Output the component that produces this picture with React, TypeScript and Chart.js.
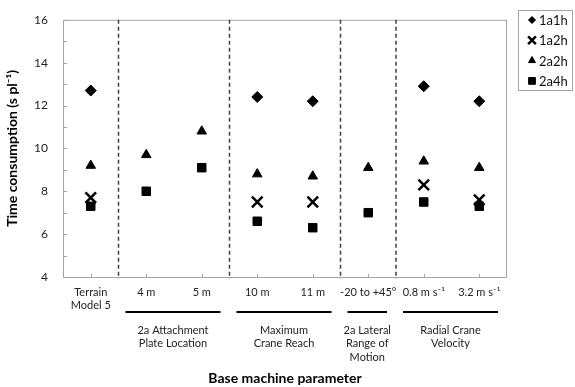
import React, { useEffect, useRef } from 'react';
import { Chart, registerables } from 'chart.js';
import { drawPoint } from 'chart.js/helpers';

Chart.register(...registerables);

const categories: (string | string[])[] = [
  ['Terrain', 'Model 5'],
  '4 m',
  '5 m',
  '10 m',
  '11 m',
  '-20 to +45°',
  '0.8 m s⁻¹',
  '3.2 m s⁻¹',
];
const series1a1h = [12.7, null, null, 12.4, 12.2, null, 12.9, 12.2];
const series1a2h = [7.7, null, null, 7.5, 7.5, null, 8.3, 7.6];
const series2a2h = [9.2, 9.7, 10.8, 8.8, 8.7, 9.1, 9.4, 9.1];
const series2a4h = [7.3, 8.0, 9.1, 6.6, 6.3, 7.0, 7.5, 7.3];
const seriesNames = ['1a1h', '1a2h', '2a2h', '2a4h'];
const separatorsAfter = [0, 2, 4, 5];
const groups = [
  { label: ['2a Attachment', 'Plate Location'], from: 1, to: 2 },
  { label: ['Maximum', 'Crane Reach'], from: 3, to: 4 },
  { label: ['2a Lateral', 'Range of', 'Motion'], from: 5, to: 5 },
  { label: ['Radial Crane', 'Velocity'], from: 6, to: 7 },
];
const yMin = 4;
const yMax = 16;
const yStep = 2;

const FONT = 'Lato, "Open Sans", sans-serif';

const styles = [
  { pointStyle: 'rectRot', radius: 5.5, borderWidth: 1, lr: 3.5 },
  { pointStyle: 'crossRot', radius: 7.5, borderWidth: 2.5, lr: 5.5 },
  { pointStyle: 'triangle', radius: 5.5, borderWidth: 1, lr: 4 },
  { pointStyle: 'rect', radius: 6, borderWidth: 1, lr: 4.8 },
];

const decoPlugin = {
  id: 'deco',
  beforeDatasetsDraw(chart: any) {
    const { ctx, chartArea: a, scales } = chart;
    const x = scales.x;
    const y = scales.y;
    ctx.save();
    ctx.strokeStyle = '#a6a6a6';
    ctx.lineWidth = 1;
    ctx.strokeRect(a.left + 0.5, a.top + 0.5, a.right - a.left - 1, a.bottom - a.top);
    for (let v = yMin; v <= yMax; v += 1) {
      const py = Math.round(y.getPixelForValue(v)) + 0.5;
      ctx.beginPath();
      ctx.moveTo(a.left, py);
      ctx.lineTo(a.left + 4, py);
      ctx.stroke();
    }
    for (let i = 0; i < categories.length; i++) {
      const px = Math.round(x.getPixelForValue(i)) + 0.5;
      ctx.beginPath();
      ctx.moveTo(px, a.bottom);
      ctx.lineTo(px, a.bottom - 3);
      ctx.stroke();
    }
    ctx.strokeStyle = '#404040';
    ctx.lineWidth = 1.5;
    ctx.setLineDash([4, 3]);
    for (const s of separatorsAfter) {
      const px = (x.getPixelForValue(s) + x.getPixelForValue(s + 1)) / 2;
      ctx.beginPath();
      ctx.moveTo(px, a.top);
      ctx.lineTo(px, a.bottom + 2);
      ctx.stroke();
    }
    ctx.restore();
  },
  afterDraw(chart: any) {
    const { ctx, chartArea: a, scales } = chart;
    const x = scales.x;
    const half = (x.getPixelForValue(1) - x.getPixelForValue(0)) / 2;
    ctx.save();
    ctx.fillStyle = '#222';
    ctx.strokeStyle = '#000';
    ctx.lineWidth = 2;
    ctx.font = `11px ${FONT}`;
    ctx.textAlign = 'center';
    ctx.textBaseline = 'middle';
    for (const g of groups) {
      const l = x.getPixelForValue(g.from) - half;
      const r = x.getPixelForValue(g.to) + half;
      const lineY = a.bottom + 35;
      ctx.beginPath();
      ctx.moveTo(l + 7, lineY);
      ctx.lineTo(r - 9, lineY);
      ctx.stroke();
      const cx = (l + 7 + r - 9) / 2;
      g.label.forEach((t, k) => {
        ctx.fillText(t, cx, lineY + 18 + k * 13.5);
      });
    }
    // legend
    const lx = a.right + 11;
    const ly = 10;
    ctx.strokeStyle = '#a6a6a6';
    ctx.lineWidth = 1;
    ctx.strokeRect(lx + 0.5, ly + 0.5, 54, 80);
    ctx.font = `13px ${FONT}`;
    ctx.textAlign = 'left';
    seriesNames.forEach((name, i) => {
      const rowY = ly + 10 + i * 20.3;
      const st = styles[i];
      ctx.fillStyle = '#000';
      ctx.strokeStyle = '#000';
      ctx.lineWidth = st.borderWidth;
      drawPoint(ctx, { pointStyle: st.pointStyle as any, radius: st.lr, rotation: 0, borderWidth: st.borderWidth }, lx + 14, rowY);
      ctx.fillStyle = '#111';
      ctx.fillText(name, lx + 21, rowY + 1);
    });
    ctx.restore();
  },
};

export default function App() {
  const ref = useRef<HTMLCanvasElement>(null);
  useEffect(() => {
    document.body.style.margin = '0';
    const canvas = ref.current;
    if (!canvas) return;
    const seriesData = [series1a1h, series1a2h, series2a2h, series2a4h];
    const chart = new Chart(canvas, {
      type: 'line',
      data: {
        labels: categories as any,
        datasets: seriesData.map((d, i) => ({
          label: seriesNames[i],
          data: d as any,
          showLine: false,
          pointStyle: styles[i].pointStyle as any,
          pointRadius: styles[i].radius,
          pointBorderWidth: styles[i].borderWidth,
          pointBackgroundColor: '#000',
          pointBorderColor: '#000',
          borderColor: '#000',
          backgroundColor: '#000',
        })),
      },
      options: {
        animation: false,
        responsive: false,
        layout: { padding: { top: 5, right: 68, left: 0, bottom: 0 } },
        plugins: { legend: { display: false }, tooltip: { enabled: false } },
        scales: {
          x: {
            type: 'category',
            offset: true,
            grid: { display: false, drawTicks: false },
            border: { display: false },
            ticks: {
              font: { family: FONT, size: 11 },
              color: '#222',
              padding: 9,
              maxRotation: 0,
              autoSkip: false,
            },
            title: {
              display: true,
              text: 'Base machine parameter',
              font: { family: FONT, size: 14, weight: 'bold' },
              color: '#000',
              padding: 0,
            },
            afterFit: (s: any) => {
              s.height = 110;
            },
          },
          y: {
            min: yMin,
            max: yMax,
            grid: { display: false, drawTicks: false },
            border: { display: false },
            ticks: {
              stepSize: yStep,
              font: { family: FONT, size: 12, lineHeight: 0.8 },
              color: '#222',
              padding: 15,
            },
            title: {
              display: true,
              text: 'Time consumption (s pl⁻¹)',
              font: { family: FONT, size: 14, weight: 'bold' },
              color: '#000',
              padding: { top: 4, bottom: 0 },
            },
            afterFit: (s: any) => {
              s.width = 63;
            },
          },
        },
      },
      plugins: [decoPlugin],
    });
    return () => chart.destroy();
  }, []);
  return (
    <div style={{ width: 575, height: 387 }}>
      <canvas ref={ref} width={575} height={387} />
    </div>
  );
}
